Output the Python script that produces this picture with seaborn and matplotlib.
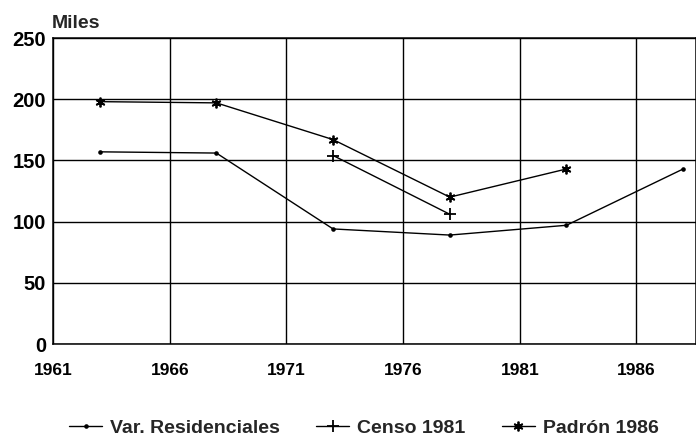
import matplotlib
matplotlib.use("Agg")
import matplotlib.pyplot as plt
import seaborn as sns
import pandas as pd

# values (thousands)
years_res = [1963, 1968, 1973, 1978, 1983, 1988]
var_residenciales = [157, 156, 94, 89, 97, 143]

years_censo = [1973, 1978]
censo_1981 = [154, 106]

years_padron = [1963, 1968, 1973, 1978, 1983]
padron_1986 = [198, 197, 167, 120, 143]

x_ticks = [1961, 1966, 1971, 1976, 1981, 1986]
y_ticks = [0, 50, 100, 150, 200, 250]

sns.set_theme(style="white")
plt.rcParams["font.family"] = ["Liberation Sans", "DejaVu Sans"]
plt.rcParams["font.weight"] = "bold"

fig = plt.figure(figsize=(6.96, 4.41), dpi=100)
ax = fig.add_axes([53 / 696, 1 - 344 / 441, 1 - 53 / 696, (344 - 38) / 441])

asterisk = (6, 2, 0)
series = [
    ("Var. Residenciales", years_res, var_residenciales, ".", 4),
    ("Censo 1981", years_censo, censo_1981, "+", 9),
    ("Padrón 1986", years_padron, padron_1986, asterisk, 7),
]
for name, xs, ys, mk, ms in series:
    df = pd.DataFrame({"year": xs, "value": ys})
    sns.lineplot(data=df, x="year", y="value", ax=ax, color="black",
                 linewidth=1.0, marker=mk, markersize=ms,
                 markeredgecolor="black", markerfacecolor="black",
                 markeredgewidth=1.3, label=name)

ax.set_xlim(1961, 1988.55)
ax.set_ylim(0, 250)
ax.set_xticks(x_ticks)
ax.set_yticks(y_ticks)
ax.set_xticklabels([str(t) for t in x_ticks], fontsize=12.5, fontweight="bold")
ax.set_yticklabels([str(t) for t in y_ticks], fontsize=14.5, fontweight="bold")
ax.tick_params(axis="both", length=0, colors="black")
ax.tick_params(axis="x", pad=14)
ax.tick_params(axis="y", pad=5)
ax.grid(True, color="black", linewidth=1.0)
for sp in ax.spines.values():
    sp.set_color("black")
    sp.set_linewidth(1.1)
ax.set_xlabel("")
ax.set_ylabel("")

fig.text(52 / 696, 1 - 23 / 441, "Miles", fontsize=14, fontweight="bold",
         ha="left", va="center")

handles, labels = ax.get_legend_handles_labels()
ax.get_legend().remove()
fig.legend(handles, labels, loc="center", bbox_to_anchor=(364 / 696, 1 - 428 / 441),
           ncol=3, frameon=False, handlelength=1.7,
           handletextpad=0.42, columnspacing=1.85, prop={"weight": "bold", "size": 14})

fig.savefig("out.png", dpi=100)
